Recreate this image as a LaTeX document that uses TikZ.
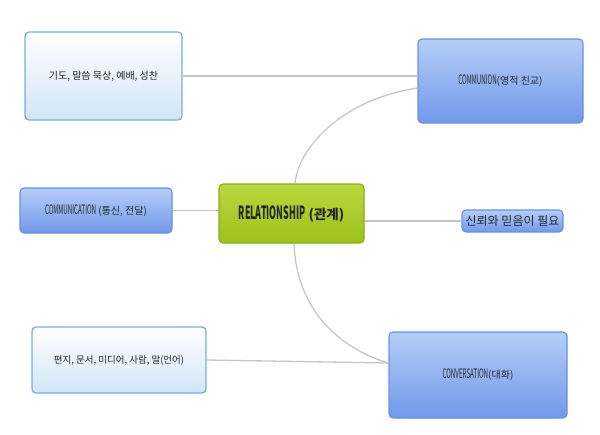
\documentclass[tikz,border=0pt]{standalone}
\usepackage{fontspec}
\usepackage{graphicx}
\setmainfont{Noto Sans CJK KR}
\definecolor{lightedge}{HTML}{78ADE6}
\definecolor{lightfill}{HTML}{D2E5F8}
\definecolor{blueedge}{HTML}{6892DE}
\definecolor{bluetop}{HTML}{B5CEF7}
\definecolor{bluebot}{HTML}{7099EA}
\definecolor{greenedge}{HTML}{8CAE12}
\definecolor{greentop}{HTML}{BBD63E}
\definecolor{greenbot}{HTML}{9DC11A}
\definecolor{linegray}{HTML}{C6C6C6}
\definecolor{txt}{HTML}{262626}
\newcommand{\lat}[1]{\scalebox{0.62}[1.3]{#1}}
\tikzset{
  lightbox/.style={draw=lightedge, line width=1.3pt, rounded corners=4pt,
    top color=white, bottom color=lightfill, inner sep=0pt, text=txt,
    font=\fontsize{10}{12}\selectfont},
  bluebox/.style={draw=blueedge, line width=1.1pt, rounded corners=4pt,
    top color=bluetop, bottom color=bluebot, inner sep=0pt, text=txt,
    font=\fontsize{10}{12}\selectfont},
  centerbox/.style={draw=greenedge, line width=1.1pt, rounded corners=4pt,
    top color=greentop, bottom color=greenbot, inner sep=0pt, text=black!85,
    font=\fontsize{13.5}{15}\selectfont\bfseries},
  link/.style={draw=linegray, line width=1.3pt}
}
\begin{document}
\begin{tikzpicture}[x=1pt, y=-1pt]
\useasboundingbox (0,0) rectangle (600,434);
\node[lightbox, minimum width=157pt, minimum height=88pt] (prayer) at (103.5,76) {기도, 말씀 묵상, 예배, 성찬};
\node[bluebox, minimum width=165pt, minimum height=84pt] (communion) at (500.5,81) {\lat{COMMUNION}(영적 친교)};
\node[bluebox, minimum width=152pt, minimum height=45pt] (communication) at (96,210.5) {\lat{COMMUNICATION} (통신, 전달)};
\node[centerbox, minimum width=145pt, minimum height=59pt] (relationship) at (291.5,213.5) {\scalebox{0.66}[1.35]{RELATIONSHIP} (관계)};
\node[bluebox, minimum width=101pt, minimum height=22pt, font=\fontsize{12}{14}\selectfont] (trust) at (512.5,221) {신뢰와 믿음이 필요};
\node[lightbox, minimum width=174pt, minimum height=66pt, font=\fontsize{9.5}{11}\selectfont] (media) at (119,360) {편지, 문서, 미디어, 사람, 말(언어)};
\node[bluebox, minimum width=178pt, minimum height=86pt] (conversation) at (478,375) {\lat{CONVERSATION}(대화)};

\coordinate (upin) at ([yshift=-7pt]communion.west);
\coordinate (downin) at ([yshift=12pt]conversation.west);
\draw[link] (prayer.east) -- (prayer.east -| communion.west);
\draw[link] ([xshift=3.5pt]relationship.north) .. controls +(3,-34) and +(-78,12) .. (upin);
\draw[link] (communication.east) -- (communication.east -| relationship.west);
\draw[link] (relationship.east |- trust.west) -- (trust.west);
\draw[link] ([xshift=2.5pt]relationship.south) .. controls +(2,57) and +(-59,-18) .. (downin);
\draw[link] (media.east) -- (downin);
\end{tikzpicture}
\end{document}
